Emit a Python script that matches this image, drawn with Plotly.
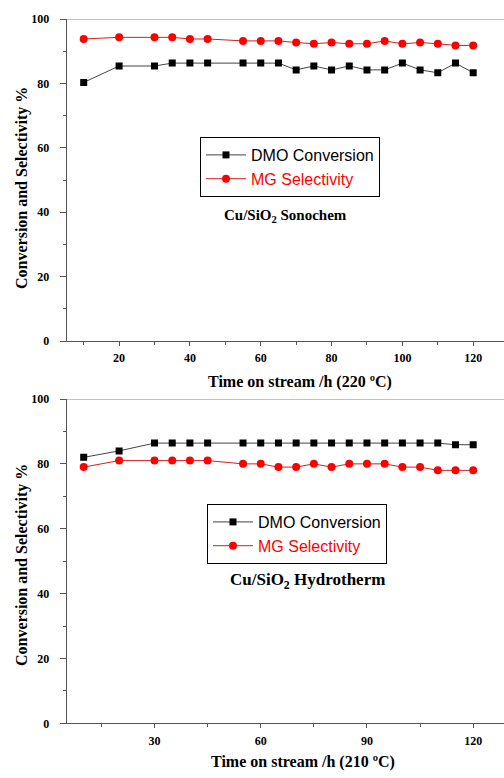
import plotly.graph_objects as go

# ---- data ----
time_h = [10, 20, 30, 35, 40, 45, 55, 60, 65, 70, 75, 80, 85, 90, 95, 100, 105, 110, 115, 120]

sono_dmo = [80.3, 85.4, 85.4, 86.3, 86.3, 86.3, 86.3, 86.3, 86.3, 84.2,
            85.4, 84.2, 85.4, 84.2, 84.2, 86.3, 84.2, 83.3, 86.3, 83.3]
sono_mg = [93.8, 94.3, 94.3, 94.3, 93.8, 93.8, 93.2, 93.2, 93.2, 92.7,
           92.3, 92.7, 92.3, 92.3, 93.2, 92.3, 92.7, 92.3, 91.8, 91.8]

hydro_dmo = [82, 84, 86.4, 86.4, 86.4, 86.4, 86.4, 86.4, 86.4, 86.4,
             86.4, 86.4, 86.4, 86.4, 86.4, 86.4, 86.4, 86.4, 85.9, 85.9]
hydro_mg = [79, 81, 81, 81, 81, 81, 80, 80, 79, 79,
            80, 79, 80, 80, 80, 79, 79, 78, 78, 78]

top_xticks = [20, 40, 60, 80, 100, 120]
bottom_xticks = [30, 60, 90, 120]
yticks = [0, 20, 40, 60, 80, 100]

W, H = 504, 778
SERIF = "Liberation Serif"
SANS = "Liberation Sans"

def px_x(p):
    return p / W

def px_y(p):
    return 1 - p / H

fig = go.Figure()

red_name = '<span style="color:#ff0000">MG Selectivity</span>'

fig.add_trace(go.Scatter(x=time_h, y=sono_dmo, mode="lines+markers", name="DMO Conversion",
                         line=dict(color="#444444", width=1),
                         marker=dict(symbol="square", size=7, color="black"),
                         xaxis="x", yaxis="y", legend="legend"))
fig.add_trace(go.Scatter(x=time_h, y=sono_mg, mode="lines+markers", name=red_name,
                         line=dict(color="#d02020", width=1),
                         marker=dict(symbol="circle", size=8, color="#ff0000"),
                         xaxis="x", yaxis="y", legend="legend"))
fig.add_trace(go.Scatter(x=time_h, y=hydro_dmo, mode="lines+markers", name="DMO Conversion",
                         line=dict(color="#444444", width=1),
                         marker=dict(symbol="square", size=7, color="black"),
                         xaxis="x2", yaxis="y2", legend="legend2"))
fig.add_trace(go.Scatter(x=time_h, y=hydro_mg, mode="lines+markers", name=red_name,
                         line=dict(color="#d02020", width=1),
                         marker=dict(symbol="circle", size=8, color="#ff0000"),
                         xaxis="x2", yaxis="y2", legend="legend2"))

xdom = [px_x(66.7), 1.0]
tickfont = dict(family=SERIF, size=12, color="black", weight="bold")

common_x = dict(range=[5.2, 128.7], showline=True, linecolor="#555555", linewidth=1,
                ticks="outside", ticklen=4, tickcolor="#555555", tickwidth=1,
                showgrid=False, zeroline=False, tickfont=tickfont, domain=xdom,
                ticklabelstandoff=2, automargin=False)
common_y = dict(range=[0, 100], showline=True, linecolor="#555555", linewidth=1,
                ticks="outside", ticklen=6, tickcolor="#555555", tickwidth=1,
                showgrid=False, zeroline=False, tickfont=tickfont, tickvals=yticks,
                ticklabelstandoff=8, automargin=False,
                minor=dict(ticks="outside", ticklen=3, tickcolor="#555555", dtick=10, tick0=0))

legend_common = dict(xanchor="left", yanchor="top",
                     bordercolor="black", borderwidth=1, bgcolor="white",
                     font=dict(family=SANS, size=16, color="black"),
                     tracegroupgap=0, itemwidth=40)

fig.update_layout(
    width=W, height=H, autosize=False,
    margin=dict(l=0, r=0, t=0, b=0, pad=0, autoexpand=False),
    paper_bgcolor="white", plot_bgcolor="white",
    xaxis=dict(**common_x, anchor="y", tickvals=top_xticks,
               minor=dict(ticks="outside", ticklen=3, tickcolor="#555555", dtick=20, tick0=10)),
    yaxis=dict(**common_y, anchor="x", domain=[px_y(341), px_y(19)]),
    xaxis2=dict(**common_x, anchor="y2", tickvals=bottom_xticks,
                minor=dict(ticks="outside", ticklen=3, tickcolor="#555555", dtick=30, tick0=15)),
    yaxis2=dict(**common_y, anchor="x2", domain=[px_y(723.3), px_y(399)]),
    legend=dict(x=px_x(200), y=px_y(137), **legend_common),
    legend2=dict(x=px_x(207), y=px_y(504), **legend_common),
    showlegend=True,
)

# top frame lines
for yref in ("y", "y2"):
    fig.add_shape(type="line", xref="paper", yref=yref, x0=xdom[0], x1=1.0, y0=100, y1=100,
                  line=dict(color="#888888", width=1))

title_font = dict(family=SERIF, size=16, color="black", weight="bold")
annots = [
    dict(text="Time on stream /h (220 ºC)", x=px_x(300), y=px_y(382)),
    dict(text="Time on stream /h (210 ºC)", x=px_x(303), y=px_y(762)),
]
for a in annots:
    fig.add_annotation(xref="paper", yref="paper", xanchor="center", yanchor="middle",
                       showarrow=False, font=title_font, **a)

for yc in (188, 565):
    fig.add_annotation(xref="paper", yref="paper", x=px_x(22), y=px_y(yc), textangle=-90,
                       text="Conversion and Selectivity %", showarrow=False,
                       xanchor="center", yanchor="middle", font=title_font)

fig.add_annotation(xref="paper", yref="paper", x=px_x(285), y=px_y(216),
                   text="Cu/SiO<sub>2</sub> Sonochem", showarrow=False,
                   xanchor="center", yanchor="middle",
                   font=dict(family=SERIF, size=15, color="black", weight="bold"))
fig.add_annotation(xref="paper", yref="paper", x=px_x(307), y=px_y(581),
                   text="Cu/SiO<sub>2</sub> Hydrotherm", showarrow=False,
                   xanchor="center", yanchor="middle",
                   font=dict(family=SERIF, size=17, color="black", weight="bold"))

fig.write_html(
    "out.html",
    config={"displayModeBar": False},
    post_script="document.body.style.margin='0px';document.body.style.padding='0px';"
                "document.documentElement.style.overflow='hidden';",
)
